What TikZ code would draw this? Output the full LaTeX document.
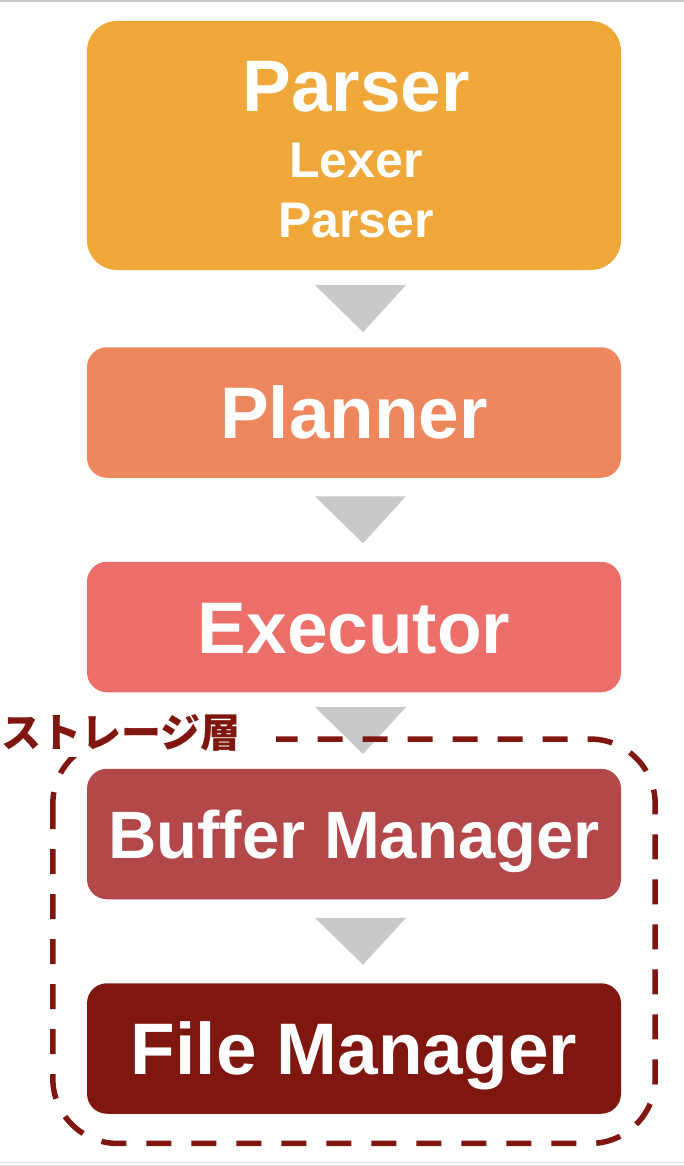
\documentclass[tikz,border=0pt]{standalone}
\usepackage{fontspec}
\setmainfont{Liberation Sans}
\newfontfamily\jpfont{Noto Sans CJK JP}
\usetikzlibrary{calc}
\definecolor{ambar}{HTML}{F0A83B}
\definecolor{salmonP}{HTML}{EE875D}
\definecolor{coralP}{HTML}{ED6F6A}
\definecolor{granate}{HTML}{B3484A}
\definecolor{vino}{HTML}{7F1710}
\definecolor{grisflecha}{HTML}{C9C9C9}

\begin{document}
\begin{tikzpicture}[x=1pt,y=-1pt,
  capa/.style={rectangle,rounded corners=20pt,minimum width=534pt,minimum height=130.5pt,
    inner sep=0pt,text=white,font=\bfseries\fontsize{73}{80}\selectfont,
    text height=52.3pt,text depth=0pt},
  subtexto/.style={text=white,inner sep=0pt,font=\bfseries\fontsize{50}{60}\selectfont}]
  \useasboundingbox (0,0) rectangle (684,1166);
  \draw[gray!45,line width=2pt] (0,1) -- (684,1);
  \draw[gray!22,line width=1pt] (0,1162) -- (684,1162) (0,1165.5) -- (684,1165.5);
  \node[capa,fill=ambar,minimum height=249pt,rounded corners=30pt] (parser) at (354,145.5) {};
  \node[subtexto,font=\bfseries\fontsize{73}{80}\selectfont,anchor=base] (parsertitulo) at (356,111.7) {Parser};
  \node[subtexto,anchor=base] (lexer) at (356,177.7) {Lexer};
  \node[subtexto,anchor=base] (subparser) at (356,238) {Parser};
  \node[capa,fill=salmonP] (planner) at (354,412.5) {Planner};
  \node[capa,fill=coralP] (executor) at (354,627) {Executor};
  \node[capa,fill=granate,font=\bfseries\fontsize{67}{74}\selectfont,text height=48pt]
    (buffer) at (354,834) {Buffer Manager};
  \node[capa,fill=vino] (filemgr) at (354,1048.5) {File Manager};
  \foreach \a/\b in {parser/planner,planner/executor,executor/buffer,buffer/filemgr}
    \fill[grisflecha] ($(\a.south)!.5!(\b.north)+(-39,-23.5)$) -- ++(91,0) -- ++(-43,47) -- cycle;
  \draw[vino,line width=5.5pt,dash pattern=on 25pt off 20pt,rounded corners=65pt]
    ($(buffer.north west)+(-34,-29.5)$) rectangle ($(filemgr.south east)+(34,29.5)$);
  \node[fill=white,text=vino,inner sep=0pt,minimum width=310pt,minimum height=48pt,
    font=\jpfont\bfseries\fontsize{40}{48}\selectfont] (almacen) at (121,733) {ストレージ層};
\end{tikzpicture}
\end{document}
